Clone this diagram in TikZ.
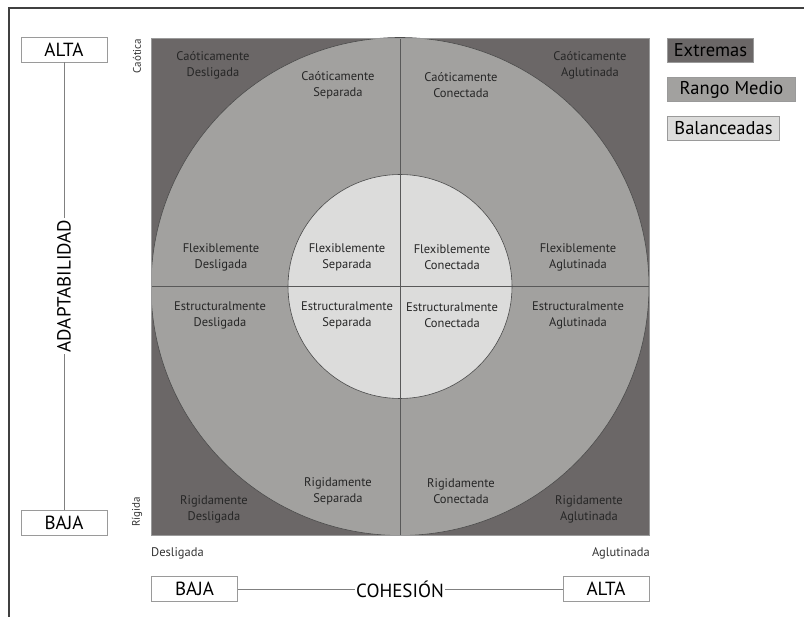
\documentclass[tikz,border=0pt]{standalone}
\usepackage{fontspec}
\setmainfont{PT Sans}
\definecolor{oscuro}{HTML}{6B6767}
\definecolor{medio}{HTML}{A2A19F}
\definecolor{claro}{HTML}{DCDCDB}
\definecolor{borde}{HTML}{9A9A9A}
\tikzset{
  caja/.style={draw=borde, line width=0.8pt, fill=white, minimum width=86pt,
    minimum height=25pt, inner sep=0pt, font=\fontsize{19}{21}\selectfont},
  celda/.style={align=center, font=\fontsize{12.5}{16}\selectfont, text=black!85},
  eje/.style={draw=black!50, line width=0.8pt},
  leyenda/.style={draw=borde, line width=1pt, inner sep=0pt, anchor=north west,
    minimum height=24pt, font=\fontsize{18.5}{20}\selectfont},
  polo/.style={rotate=90, font=\fontsize{11}{12}\selectfont, text=black!80},
  limite/.style={font=\fontsize{12.5}{14}\selectfont, text=black!80}
}
\begin{document}
\begin{tikzpicture}[x=1pt,y=-1pt]
	\useasboundingbox (0,0) rectangle (804,617);
	% marco
	\draw[black!75, line width=1.5pt] (9,617) -- (9,8) -- (804,8);
	% zonas del modelo
	\begin{scope}
		\clip (151,38) rectangle (649,535);
		\fill[oscuro] (151,38) rectangle (649,535);
		\draw[fill=medio, draw=black!70, line width=0.6pt] (400,286.5) circle[radius=249pt];
		\draw[fill=claro, draw=black!70, line width=0.6pt] (400,286.5) circle[radius=112pt];
		\draw[black!65, line width=0.6pt] (151,286.5) -- (649,286.5);
		\draw[black!65, line width=0.6pt] (400,38) -- (400,535);
	\end{scope}
	\draw[borde, line width=0.6pt] (151,38) rectangle (649,535);
	% tipos de familia
	\node[celda] (cd) at (213,65) {Caóticamente\\Desligada};
	\node[celda] (cs) at (338,85) {Caóticamente\\Separada};
	\node[celda] (cc) at (461,85) {Caóticamente\\Conectada};
	\node[celda] (ca) at (590,65) {Caóticamente\\Aglutinada};
	\node[celda] (fd) at (221,257) {Flexiblemente\\Desligada};
	\node[celda] (fs) at (347,257) {Flexiblemente\\Separada};
	\node[celda] (fc) at (452,257) {Flexiblemente\\Conectada};
	\node[celda] (fa) at (578,257) {Flexiblemente\\Aglutinada};
	\node[celda] (ed) at (220,315) {Estructuralmente\\Desligada};
	\node[celda] (es) at (347,315) {Estructuralmente\\Separada};
	\node[celda] (ec) at (452,315) {Estructuralmente\\Conectada};
	\node[celda] (ea) at (578,315) {Estructuralmente\\Aglutinada};
	\node[celda] (rd) at (214,509) {Rigidamente\\Desligada};
	\node[celda] (rs) at (338,491) {Rigidamente\\Separada};
	\node[celda] (rc) at (461,491) {Rigidamente\\Conectada};
	\node[celda] (ra) at (589,509) {Rigidamente\\Aglutinada};
	% polos de cada eje
	\node[polo] (caotica) at (137,56) {Caótica};
	\node[polo] (rigida) at (137,512) {Rígida};
	\node[limite, anchor=west, inner sep=0pt] (desligada) at (151,553) {Desligada};
	\node[limite, anchor=east, inner sep=0pt] (aglutinada) at (650,553) {Aglutinada};
	% eje de adaptabilidad
	\node[caja] (altaA) at (64,49.5) {ALTA};
	\node[caja] (bajaA) at (64,522.5) {BAJA};
	\node[rotate=90, inner sep=2pt, font=\fontsize{19}{21}\selectfont] (adapt) at (64,286) {ADAPTABILIDAD};
	\draw[eje] (altaA) -- (adapt) -- (bajaA);
	% eje de cohesion
	\node[caja] (bajaC) at (194.5,589) {BAJA};
	\node[caja] (altaC) at (606,589) {ALTA};
	\node[inner sep=1pt, font=\fontsize{19}{21}\selectfont] (cohesion) at (400,589) {COHESIÓN};
	\draw[eje] (bajaC) -- (cohesion) -- (altaC);
	% leyenda
	\node[leyenda, fill=oscuro, minimum width=86pt] (extremas) at (667,38) {Extremas};
	\node[leyenda, fill=medio, minimum width=128pt] (rango) at (667,77) {Rango Medio};
	\node[leyenda, fill=claro, minimum width=112pt] (balanceadas) at (667,116) {Balanceadas};
\end{tikzpicture}
\end{document}
